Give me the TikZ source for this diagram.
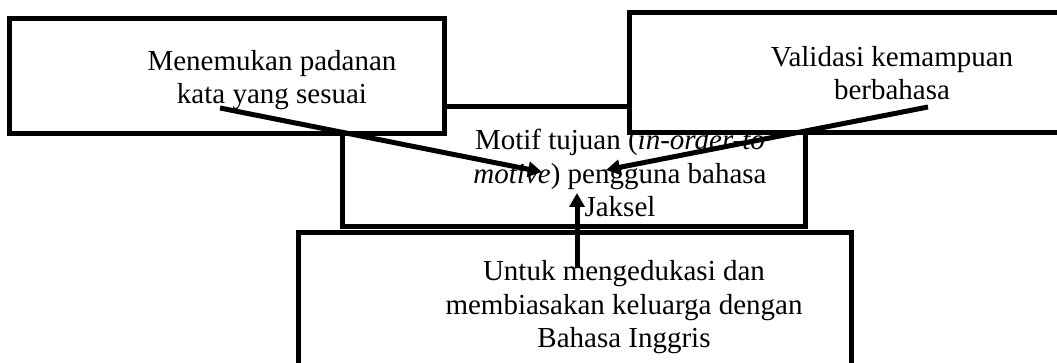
\documentclass[tikz,border=0pt]{standalone}
\usepackage{fontspec}
\setmainfont{Liberation Serif}
\usetikzlibrary{arrows.meta}

\tikzset{
  kotak/.style={draw,line width=2.5pt,fill=white,inner sep=0pt},
  teks/.style={align=center,anchor=base,inner sep=0pt,
    font=\fontsize{14.5}{16.75}\selectfont},
  panah/.style={line width=2.5pt,-{Triangle[length=7pt,width=7.5pt]}}
}

\begin{document}
\begin{tikzpicture}[x=0.5pt,y=-0.5pt]
    \useasboundingbox (0,0) rectangle (1057,363);

    % kotak tengah
    \node[kotak,minimum width=231.5pt,minimum height=60pt] (tengah) at (573.5,167) {};
    \node[teks] (motif) at (620,217) {Motif tujuan (\textit{in-order-to}\\\textit{motive}) pengguna bahasa\\Jaksel};

    % kotak atas
    \node[kotak,minimum width=217.25pt,minimum height=57.75pt] (kiri) at (226.75,76.25) {};
    \node[kotak,minimum width=220.5pt,minimum height=60.25pt] (kanan) at (849.5,72.75) {};
    \node[teks] (padanan) at (272,104) {Menemukan padanan\\kata yang sesuai};
    \node[teks] (validasi) at (892,100) {Validasi kemampuan\\berbahasa};

    % kotak bawah
    \node[kotak,minimum width=276.5pt,minimum height=78.5pt] (bawah) at (574.5,311.5) {};
    \node[teks] (edukasi) at (624,348) {Untuk mengedukasi dan\\membiasakan keluarga dengan\\Bahasa Inggris};

    % panah
    \coordinate (p1) at (220,108);
    \coordinate (q1) at (542,172);
    \coordinate (p2) at (928,107);
    \coordinate (q2) at (606,170);
    \coordinate (p3) at (577,268);
    \coordinate (q3) at (577,193);
    \draw[panah] (p1) -- (q1);
    \draw[panah] (p2) -- (q2);
    \draw[panah] (p3) -- (q3);
\end{tikzpicture}
\end{document}
